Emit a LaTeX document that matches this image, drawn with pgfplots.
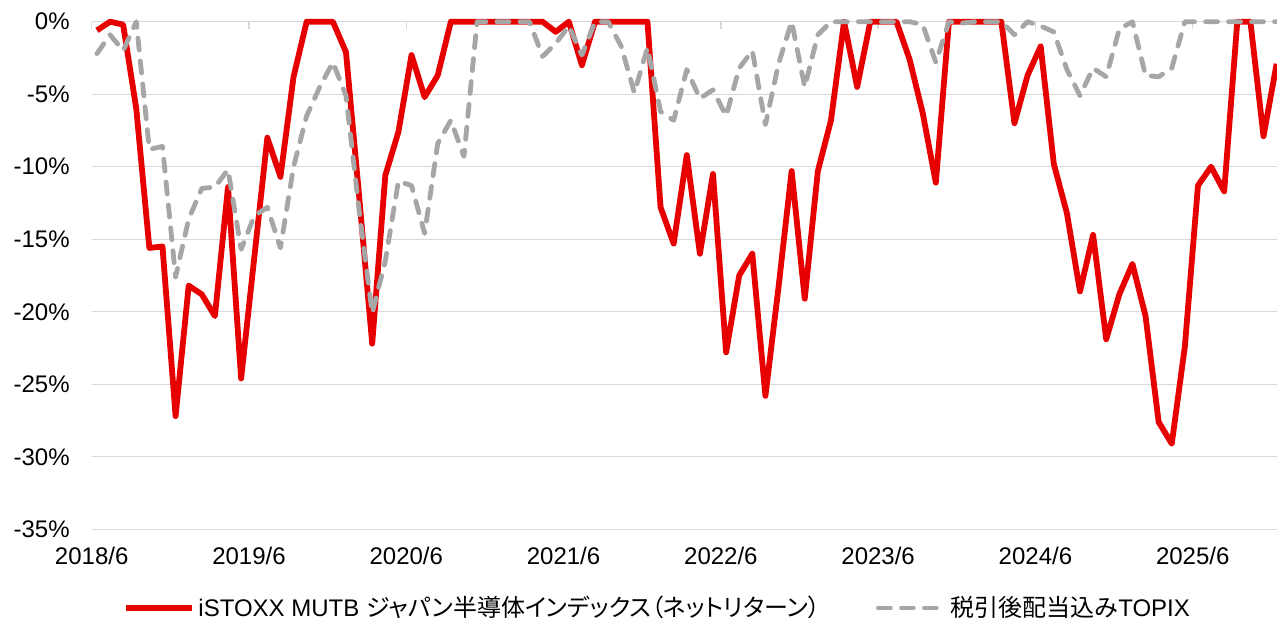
\documentclass[border=0pt]{standalone}
\usepackage{fontspec}
\setmainfont{Liberation Sans}
\newfontfamily\jp[RawFeature=+palt]{Noto Sans CJK JP}
\usepackage{pgfplots}
\usepackage{pgfplotstable}
\pgfplotsset{compat=1.18}
\usetikzlibrary{calc}
\definecolor{redline}{HTML}{E60000}
\definecolor{greyline}{HTML}{A6A6A6}
\definecolor{gridc}{HTML}{D9D9D9}

\pgfplotstableread{
x red topix
0 -0.6 -2.2
1 0 -0.9
2 -0.2 -2.0
3 -6.0 0
4 -15.6 -8.8
5 -15.5 -8.6
6 -27.2 -17.6
7 -18.2 -13.6
8 -18.8 -11.5
9 -20.3 -11.4
10 -11.4 -10.2
11 -24.6 -15.7
12 -16.3 -13.4
13 -8.0 -12.8
14 -10.7 -15.6
15 -3.8 -10.0
16 0 -6.5
17 0 -4.5
18 0 -2.8
19 -2.1 -5.1
20 -12.0 -13.0
21 -22.2 -20.1
22 -10.6 -16.5
23 -7.6 -11.0
24 -2.3 -11.3
25 -5.2 -14.6
26 -3.7 -8.4
27 0 -6.8
28 0 -9.3
29 0 0
30 0 0
31 0 0
32 0 0
33 0 0
34 0 -2.4
35 -0.7 -1.5
36 0 -0.3
37 -3.0 -2.3
38 0 0
39 0 0
40 0 -1.7
41 0 -4.9
42 0 -1.8
43 -12.8 -6.2
44 -15.3 -6.8
45 -9.2 -3.3
46 -16.0 -5.3
47 -10.5 -4.7
48 -22.8 -6.5
49 -17.5 -3.2
50 -16.0 -2.0
51 -25.8 -7.1
52 -18.3 -2.9
53 -10.3 0
54 -19.1 -4.5
55 -10.3 -0.9
56 -6.8 0
57 0 0
58 -4.5 0
59 0 0
60 0 0
61 0 0
62 -2.6 0
63 -6.3 -0.2
64 -11.1 -2.8
65 0 0
66 0 -0.1
67 0 0
68 0 0
69 0 0
70 -7.0 -0.9
71 -3.7 0
72 -1.7 -0.3
73 -9.8 -0.7
74 -13.2 -3.3
75 -18.6 -5.1
76 -14.7 -3.2
77 -21.9 -3.8
78 -18.8 -0.5
79 -16.7 0
80 -20.3 -3.7
81 -27.6 -3.8
82 -29.1 -3.2
83 -22.4 0
84 -11.3 0
85 -10.0 0
86 -11.7 0
87 0 0
88 0 0
89 -7.9 0
90 -2.9 0
}\data

\begin{document}
\begin{tikzpicture}
\begin{axis}[name=ax, scale only axis, width=592.65pt, height=253.8pt,
  xmin=-0.4, xmax=90.03, ymin=-35, ymax=0,
  clip=false,
  axis line style={draw=none},
  ytick={-35,-30,-25,-20,-15,-10,-5,0},
  yticklabels={-35\%,-30\%,-25\%,-20\%,-15\%,-10\%,-5\%,0\%},
  ymajorgrids, grid style={gridc, line width=0.7pt},
  ytick style={draw=none},
  xtick={-0.4,11.6,23.6,35.6,47.6,59.6,71.6,83.6},
  xticklabels={2018/6,2019/6,2020/6,2021/6,2022/6,2023/6,2024/6,2025/6},
  xtick pos=top, xticklabel pos=bottom,
  tick align=inside, major tick length=3.5pt,
  xtick style={gridc, line width=0.7pt},
  ticklabel style={font=\fontsize{12}{14}\selectfont, text=black},
  yticklabel style={anchor=east, inner sep=0pt, xshift=-10.85pt},
  xticklabel style={anchor=north, inner sep=0pt, yshift=-8.85pt},
  legend columns=2,
  legend style={at={(0.478,0)}, anchor=center, yshift=-39.35pt, draw=none, fill=none,
    font=\fontsize{12}{14}\selectfont,
    /tikz/every even column/.append style={column sep=26pt}},
  legend image code/.code={\draw[#1] (0pt,0pt) -- (33pt,0pt);},
]
\addplot[redline, line width=2.9pt, line join=round] table[x=x, y=red] {\data};
\addlegendentry{iSTOXX MUTB {\jp ジャパン半導体インデックス（ネットリターン）}}
\addplot[greyline, line width=2.4pt, line cap=round, line join=round, dash pattern=on 6pt off 5.5pt] table[x=x, y=topix] {\data};
\addlegendentry{{\jp 税引後配当込み}TOPIX}
\end{axis}
\pgfresetboundingbox
\path[use as bounding box] ($(ax.south west)+(-45.85pt,-46.85pt)$) rectangle ($(ax.north east)+(0pt,10.85pt)$);
\end{tikzpicture}
\end{document}
